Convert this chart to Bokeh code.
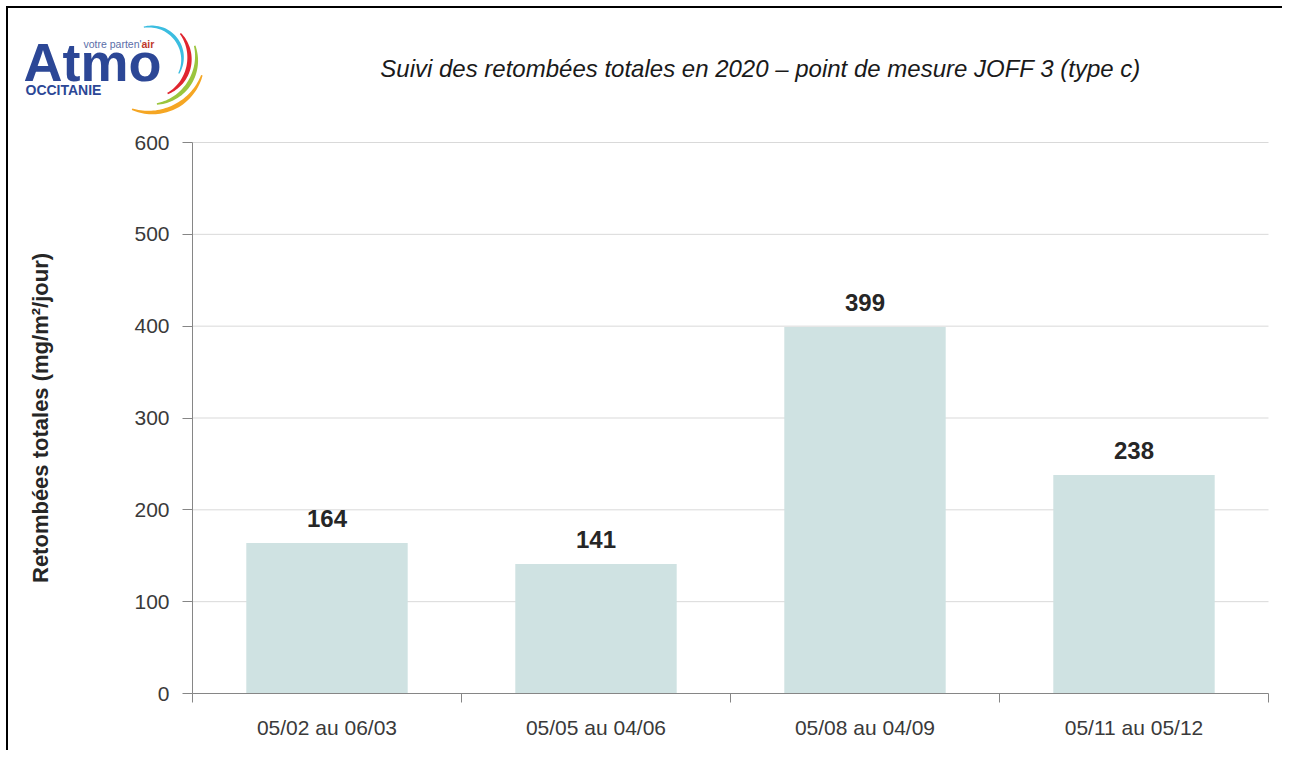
import math
from bokeh.plotting import figure
from bokeh.models import ColumnDataSource, Range1d, FixedTicker, LabelSet
from bokeh.core.properties import value
from bokeh.embed import file_html
from bokeh.resources import INLINE

# ---------------- data ----------------
categories = ["05/02 au 06/03", "05/05 au 04/06", "05/08 au 04/09", "05/11 au 05/12"]
values = [164, 141, 399, 238]
y_ticks = [0, 100, 200, 300, 400, 500, 600]
title_text = "Suivi des retombées totales en 2020 \u2013 point de mesure JOFF 3 (type c)"
y_label = "Retombées totales (mg/m²/jour)"

# ---------------- layout (page pixels) ----------------
W, H = 1276, 744
OX, OY = 8, 8                     # canvas origin on the page
PL, PR, PT, PB = 192, 1268, 142, 693   # plot area on the page
YMAX = 600
NCAT = len(categories)
REG = "Liberation Sans"
BLUE = "#2c4796"
AX = "#868686"

def fx(X):
    return (X - PL) * NCAT / (PR - PL)

def fy(Y):
    return (PB - Y) * YMAX / (PB - PT)

p = figure(width=W, height=H, output_backend="svg", toolbar_location=None, tools="",
           x_range=Range1d(fx(OX), fx(OX + W)), y_range=Range1d(fy(OY + H), fy(OY)),
           min_border=0, min_border_left=0, min_border_right=0,
           min_border_top=0, min_border_bottom=0)
p.styles = {"margin-left": "6px", "margin-top": "6px",
            "border-left": "2px solid black", "border-top": "2px solid black"}
p.outline_line_color = None
p.background_fill_color = "white"
p.border_fill_color = "white"
p.xgrid.visible = False
p.ygrid.visible = False

# horizontal grid lines at the y ticks, across the category span
p.segment(x0=0, x1=NCAT, y0=y_ticks[1:], y1=y_ticks[1:], line_color="#d9d9d9", line_width=1)

centers = [i + 0.5 for i in range(NCAT)]
src = ColumnDataSource(dict(x=centers, top=values, lab=[str(v) for v in values]))
p.vbar(x="x", top="top", width=0.6, source=src, fill_color="#cfe2e2", line_color=None)

# x axis
xa = p.xaxis[0]
xa.fixed_location = 0
xa.bounds = (0, NCAT)
xa.ticker = FixedTicker(ticks=centers, minor_ticks=list(range(NCAT + 1)))
xa.major_label_overrides = {c: cat for c, cat in zip(centers, categories)}
xa.major_tick_line_color = None
xa.major_tick_out = 0
xa.major_tick_in = 0
xa.minor_tick_out = 9
xa.minor_tick_in = 0
xa.minor_tick_line_color = AX
xa.axis_line_color = AX
xa.major_label_text_font = REG
xa.major_label_text_font_size = "21px"
xa.major_label_text_color = "#3a3a3a"
xa.major_label_standoff = 13

# y axis
ya = p.yaxis[0]
ya.fixed_location = 0
ya.bounds = (0, YMAX)
ya.ticker = FixedTicker(ticks=y_ticks)
ya.major_tick_out = 10
ya.major_tick_in = 0
ya.major_tick_line_color = AX
ya.minor_tick_line_color = None
ya.axis_line_color = AX
ya.major_label_text_font = REG
ya.major_label_text_font_size = "21px"
ya.major_label_text_color = "#3a3a3a"
ya.major_label_standoff = 13
ya.axis_label = y_label
ya.axis_label_text_font = REG
ya.axis_label_text_font_style = "bold"
ya.axis_label_text_font_size = "22px"
ya.axis_label_text_color = "#262626"
ya.axis_label_standoff = 78

# value labels
p.add_layout(LabelSet(x="x", y="top", text="lab", source=src, y_offset=16,
                      text_align="center", text_baseline="alphabetic",
                      text_font=value(REG), text_font_style="bold",
                      text_font_size="24px", text_color="#262626"))

# ---------- header: title + logo (positions given as baseline, placed with 'middle') ----------
def ptext(X, Yb, t, size, style="normal", color="#1a1a1a", align="left"):
    Ym = Yb - 0.35 * size
    p.text(x=[fx(X)], y=[fy(Ym)], text=[t], text_font=value(REG),
           text_font_size=f"{size}px", text_font_style=style, text_color=color,
           text_align=align, text_baseline="middle")

ptext(760, 76, title_text, 24, style="italic", align="center")
ptext(23, 80, "Atmo", 54, style="bold", color=BLUE)
ptext(83, 47, "votre parten'", 10.5, color="#5b6ea8")
ptext(141, 47, "air", 10.5, style="bold", color="#c0392b")
ptext(25, 94, "OCCITANIE", 14, style="bold", color=BLUE)

def arc_poly(cx, cy, r, a0, a1, w, color):
    n = 40
    outer, inner = [], []
    for i in range(n + 1):
        a = math.radians(a0 + (a1 - a0) * i / n)
        t = math.sin(math.pi * i / n)
        ww = w * (0.35 + 0.65 * t)
        outer.append((cx + (r + ww / 2) * math.cos(a), cy - (r + ww / 2) * math.sin(a)))
        inner.append((cx + (r - ww / 2) * math.cos(a), cy - (r - ww / 2) * math.sin(a)))
    pts = outer + inner[::-1]
    p.patch(x=[fx(X) for X, _ in pts], y=[fy(Y) for _, Y in pts],
            fill_color=color, line_color=None)

arc_poly(150, 58, 32, 102, -28, 3.5, "#3bbde0")
arc_poly(150, 58, 39, 40, -64, 4.5, "#e0252f")
arc_poly(150, 58, 46, 16, -82, 4.5, "#9bc53d")
arc_poly(150, 58, 54, -18, -110, 4.5, "#f5a623")

open("out.html", "w").write(file_html(p, INLINE))
